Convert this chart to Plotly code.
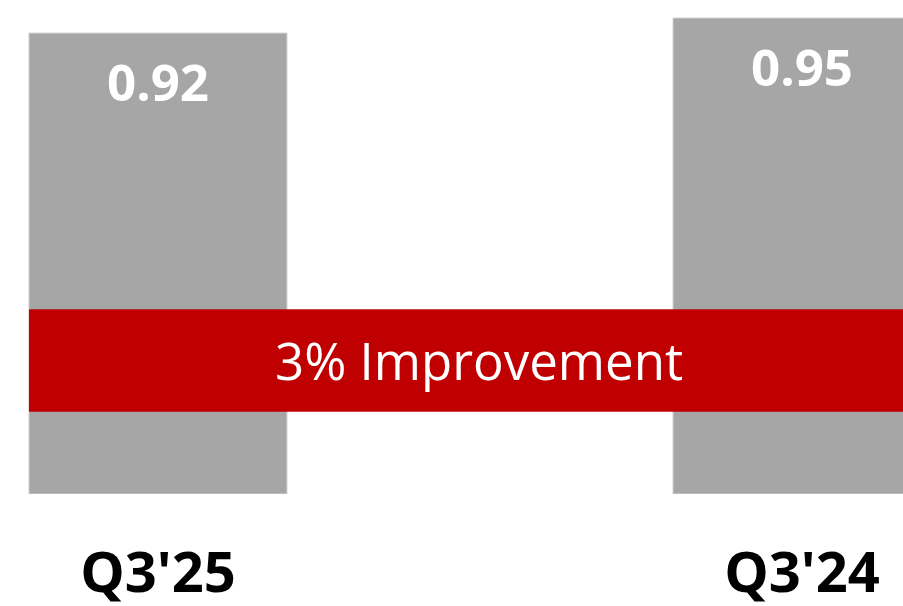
import plotly.graph_objects as go

categories = ["Q3'25", "Q3'24"]
values = [0.92, 0.95]
value_labels = ["0.92", "0.95"]
band_text = "3% Improvement"
band_range = [0.164, 0.369]

x_pos = list(range(len(categories)))
bar_w = 0.4006

fig = go.Figure()
fig.add_trace(go.Bar(
    x=x_pos, y=values, width=bar_w,
    marker=dict(color="#A6A6A6", line=dict(color="#D0D0D0", width=1)),
    hoverinfo="skip", showlegend=False,
))

for xi, v, t in zip(x_pos, values, value_labels):
    fig.add_annotation(x=xi, y=v, yref="y", xref="x", text=f"<b>{t}</b>",
                       showarrow=False, yanchor="middle", yshift=-48,
                       font=dict(family="Open Sans", size=51, color="white"))

fig.add_shape(type="rect", xref="x", yref="y",
              x0=x_pos[0] - bar_w / 2, x1=1.2,
              y0=band_range[0], y1=band_range[1],
              fillcolor="#C00000", line=dict(width=0), layer="above")
fig.add_annotation(xref="paper", yref="y", x=0.531,
                   y=(band_range[0] + band_range[1]) / 2,
                   text=band_text, showarrow=False,
                   font=dict(family="Open Sans", size=51, color="white"))

fig.update_layout(
    width=903, height=606,
    margin=dict(l=0, r=0, t=0, b=112, autoexpand=False),
    paper_bgcolor="white", plot_bgcolor="white",
    xaxis=dict(range=[-0.2453, 1.1568], tickvals=x_pos, ticktext=categories,
               showgrid=False, zeroline=False, showline=False, ticks="",
               ticklabelstandoff=41, automargin=False,
               tickfont=dict(family="Open Sans", size=56, color="black", weight="bold")),
    yaxis=dict(range=[0, 0.986], visible=False, showgrid=False, zeroline=False,
               automargin=False),
)

fig.write_html("out.html", config={"displayModeBar": False},
               post_script="document.body.style.margin='0px';document.body.style.overflow='hidden';")
